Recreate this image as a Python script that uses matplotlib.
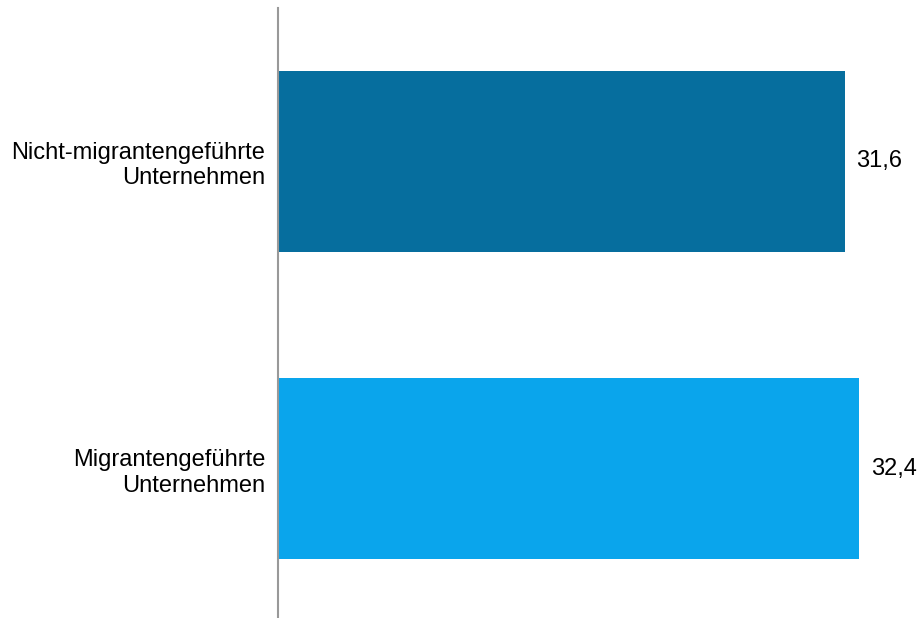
import matplotlib
matplotlib.use("Agg")
import matplotlib.pyplot as plt

categories = ["Migrantengeführte\nUnternehmen", "Nicht-migrantengeführte\nUnternehmen"]
values = [32.4, 31.6]
colors = ["#0AA5EC", "#066E9E"]
value_labels = ["32,4", "31,6"]

plt.rcParams['font.family'] = ['Liberation Sans', 'DejaVu Sans']

fig = plt.figure(figsize=(9.2, 6.18), dpi=100)
ax = fig.add_axes([278/920, 0, 1 - 278/920, 1 - 8/618])

y = list(range(len(categories)))
ax.barh(y, values, height=0.589, color=colors, zorder=2)
for yi, v, lab in zip(y, values, value_labels):
    ax.text(v + 0.65, yi, lab, va='center', ha='left', fontsize=17)

ax.set_xlim(0, 642/17.93)
ax.set_ylim(-0.485, 1.499)
ax.set_yticks(y)
ax.set_yticklabels(categories, fontsize=17, linespacing=1.2)
ax.tick_params(axis='y', length=0, pad=9)
ax.set_xticks([])
for s in ['top', 'right', 'bottom']:
    ax.spines[s].set_visible(False)
ax.spines['left'].set_color('#999999')
ax.spines['left'].set_linewidth(1.5)

fig.savefig("out.png", dpi=100)
